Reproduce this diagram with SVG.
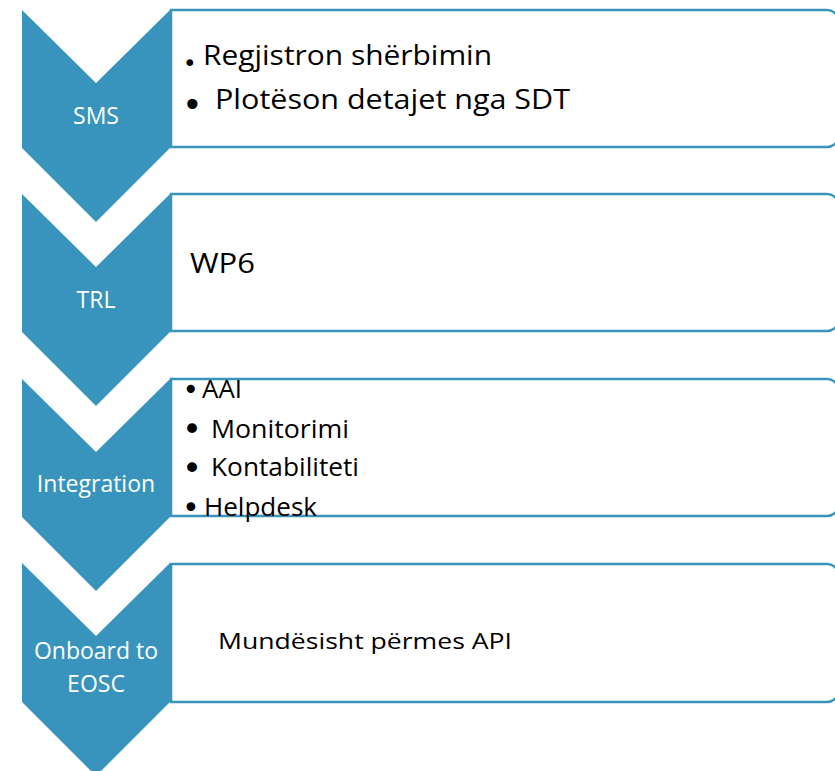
<svg xmlns="http://www.w3.org/2000/svg" width="835" height="771" viewBox="0 0 835 771">
<style>
.chev{fill:#3894BC;stroke:none}
.box{fill:#FFFFFF;stroke:#3894BC;stroke-width:2.5}
.lbl{font-family:"Open Sans","DejaVu Sans",sans-serif;font-size:23px;font-weight:400;fill:#FFFFFF;text-anchor:middle}
.txt{font-family:"Open Sans","Noto Sans",sans-serif;font-weight:400;fill:#000000}
.bul{font-family:"DejaVu Sans",sans-serif}
</style>
<rect width="835" height="771" fill="#FFFFFF"/>
<g id="connectors"></g>
<g id="node-sms">
<polygon class="chev" points="22,10 96,83 170,10 170,148 96,222 22,148"/>
<path class="box" d="M171,10 H827 A12,12 0 0 1 839,22 V135 A12,12 0 0 1 827,147 H171 Z"/>
<text class="lbl" x="96" y="124">SMS</text>
<text class="txt" font-size="28"><tspan class="bul" x="183" y="71" font-size="23">•</tspan><tspan x="203" y="65" textLength="289" lengthAdjust="spacingAndGlyphs">Regjistron shërbimin</tspan></text>
<text class="txt" font-size="28"><tspan class="bul" x="182" y="117" font-size="35">•</tspan><tspan x="215" y="109" textLength="355" lengthAdjust="spacingAndGlyphs">Plotëson detajet nga SDT</tspan></text>
</g>
<g id="node-trl">
<polygon class="chev" points="22,194 96,267 170,194 170,332 96,406 22,332"/>
<path class="box" d="M171,194 H827 A12,12 0 0 1 839,206 V319 A12,12 0 0 1 827,331 H171 Z"/>
<text class="lbl" x="96" y="308">TRL</text>
<text class="txt" x="190" y="273" font-size="28" textLength="65" lengthAdjust="spacingAndGlyphs">WP6</text>
</g>
<g id="node-integration">
<polygon class="chev" points="22,379 96,452 170,379 170,517 96,591 22,517"/>
<path class="box" d="M171,379 H827 A12,12 0 0 1 839,391 V504 A12,12 0 0 1 827,516 H171 Z"/>
<text class="lbl" x="96" y="492">Integration</text>
<text class="txt" font-size="25"><tspan class="bul" x="182.5" y="399" font-size="28">•</tspan><tspan x="202" y="398" textLength="40" lengthAdjust="spacingAndGlyphs">AAI</tspan></text>
<text class="txt" font-size="25"><tspan class="bul" x="182" y="441" font-size="34">•</tspan><tspan x="211" y="438" textLength="138" lengthAdjust="spacingAndGlyphs">Monitorimi</tspan></text>
<text class="txt" font-size="25"><tspan class="bul" x="182" y="480" font-size="34">•</tspan><tspan x="211" y="476" textLength="148" lengthAdjust="spacingAndGlyphs">Kontabiliteti</tspan></text>
<text class="txt" font-size="25"><tspan class="bul" x="182" y="518" font-size="30">•</tspan><tspan x="204" y="516" textLength="113" lengthAdjust="spacingAndGlyphs">Helpdesk</tspan></text>
</g>
<g id="node-onboard">
<polygon class="chev" points="22,563 96,636 170,563 170,702 96,776 22,702"/>
<path class="box" d="M171,564 H827 A12,12 0 0 1 839,576 V690 A12,12 0 0 1 827,702 H171 Z"/>
<text class="lbl" x="96" y="659">Onboard to</text>
<text class="lbl" x="96" y="692">EOSC</text>
<text class="txt" x="218" y="649" font-size="22" textLength="294" lengthAdjust="spacingAndGlyphs">Mundësisht përmes API</text>
</g>
</svg>
